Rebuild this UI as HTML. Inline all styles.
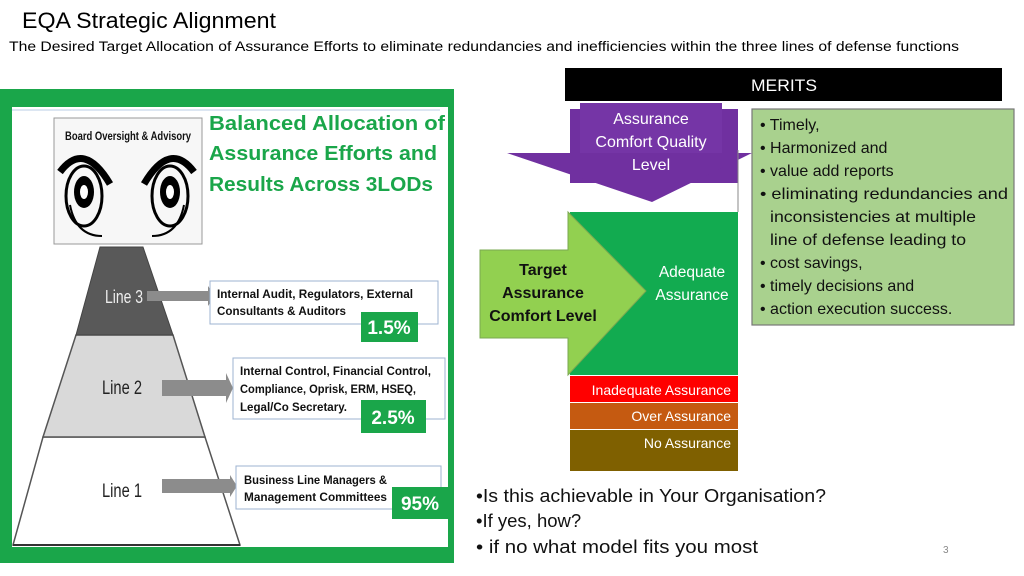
<!DOCTYPE html>
<html><head><meta charset="utf-8"><style>
html,body{margin:0;padding:0;background:#fff;}
svg{display:block;font-family:"Liberation Sans",sans-serif;}
</style></head><body>
<svg width="1024" height="576" viewBox="0 0 1024 576" xmlns="http://www.w3.org/2000/svg">
<rect width="1024" height="576" fill="#fff"/>
<text x="22" y="28" font-size="22" fill="#000" textLength="254" lengthAdjust="spacingAndGlyphs">EQA Strategic Alignment</text>
<text x="9" y="51" font-size="13.5" fill="#000" textLength="950" lengthAdjust="spacingAndGlyphs">The Desired Target  Allocation of Assurance Efforts to eliminate redundancies and inefficiencies within the three lines of defense functions</text>

<!-- left panel -->
<rect x="0" y="89" width="454" height="474" fill="#1aa64a"/>
<rect x="12" y="107" width="436" height="440" fill="#fff"/>
<line x1="12" y1="110" x2="440" y2="110" stroke="#b8cce4" stroke-width="1"/>
<rect x="54" y="118" width="148" height="126" fill="#f7f7f7" stroke="#999" stroke-width="1"/>
<text x="128" y="140" font-size="12" font-weight="bold" text-anchor="middle" fill="#111" textLength="126" lengthAdjust="spacingAndGlyphs">Board Oversight &amp; Advisory</text>
<!-- eyes -->
<g fill="none" stroke="#000">
<path d="M60 172 Q84 140 110 184" stroke-width="7"/>
<path d="M194 172 Q170 140 144 184" stroke-width="7"/>
<ellipse cx="84" cy="196" rx="18" ry="30" stroke-width="3"/>
<ellipse cx="170" cy="196" rx="18" ry="30" stroke-width="3"/>
<path d="M70 205 Q76 236 102 236" stroke-width="2"/>
<path d="M184 205 Q178 236 152 236" stroke-width="2"/>
</g>
<ellipse cx="84" cy="192" rx="10" ry="16" fill="#000"/>
<ellipse cx="84" cy="192" rx="4" ry="7" fill="#fff"/>
<ellipse cx="170" cy="192" rx="10" ry="16" fill="#000"/>
<ellipse cx="170" cy="192" rx="4" ry="7" fill="#fff"/>

<g font-weight="bold" font-size="20" fill="#1aa64a">
<text x="209" y="130" textLength="236" lengthAdjust="spacingAndGlyphs">Balanced Allocation of</text>
<text x="209" y="160" textLength="228" lengthAdjust="spacingAndGlyphs">Assurance Efforts and</text>
<text x="209" y="191" textLength="224" lengthAdjust="spacingAndGlyphs">Results Across 3LODs</text>
</g>

<!-- pyramid -->
<polygon points="13,545 43,437 205,437 240,545" fill="#fff" stroke="#555" stroke-width="1.5"/>
<polygon points="43,437 76,335 173,335 205,437" fill="#d9d9d9" stroke="#555" stroke-width="1.5"/>
<polygon points="76,335 100,247 143,247 173,335" fill="#595959" stroke="#444" stroke-width="1"/>
<line x1="13" y1="545" x2="240" y2="545" stroke="#333" stroke-width="2"/>
<text x="124" y="303" font-size="18" fill="#eee" text-anchor="middle" textLength="38" lengthAdjust="spacingAndGlyphs">Line 3</text>
<text x="122" y="394" font-size="19" fill="#222" text-anchor="middle" textLength="40" lengthAdjust="spacingAndGlyphs">Line 2</text>
<text x="122" y="497" font-size="19" fill="#222" text-anchor="middle" textLength="40" lengthAdjust="spacingAndGlyphs">Line 1</text>

<!-- arrows -->
<g fill="#8c8c8c">
<polygon points="147,291 208,291 208,286 215,296 208,306 208,301 147,301"/>
<polygon points="162,380 226,380 226,373 233,388 226,403 226,396 162,396"/>
<polygon points="162,479 230,479 230,475 237,486 230,497 230,493 162,493"/>
</g>

<!-- boxes -->
<g fill="#fff" stroke="#9db3d0" stroke-width="1">
<rect x="210" y="281" width="228" height="43"/>
<rect x="233" y="358" width="212" height="61"/>
<rect x="236" y="466" width="205" height="43"/>
</g>
<g font-size="11.5" font-weight="bold" fill="#111">
<text x="217" y="298" textLength="196" lengthAdjust="spacingAndGlyphs">Internal Audit, Regulators, External</text>
<text x="217" y="315" textLength="129" lengthAdjust="spacingAndGlyphs">Consultants &amp; Auditors</text>
<text x="240" y="375" textLength="191" lengthAdjust="spacingAndGlyphs">Internal Control, Financial Control,</text>
<text x="240" y="393" textLength="176" lengthAdjust="spacingAndGlyphs">Compliance, Oprisk, ERM, HSEQ,</text>
<text x="240" y="411" textLength="107" lengthAdjust="spacingAndGlyphs">Legal/Co Secretary.</text>
<text x="244" y="484" textLength="143" lengthAdjust="spacingAndGlyphs">Business Line Managers &amp;</text>
<text x="244" y="501" textLength="143" lengthAdjust="spacingAndGlyphs">Management Committees</text>
</g>
<g fill="#1aa64a">
<rect x="361" y="312" width="57" height="30"/>
<rect x="361" y="400" width="65" height="33"/>
<rect x="392" y="487" width="56" height="32"/>
</g>
<g font-size="19" font-weight="bold" fill="#fff" text-anchor="middle">
<text x="389" y="334">1.5%</text>
<text x="393" y="424">2.5%</text>
<text x="420" y="510">95%</text>
</g>

<!-- right -->
<rect x="565" y="68" width="437" height="33" fill="#000"/>
<text x="784" y="91" font-size="17" fill="#fff" text-anchor="middle" textLength="66" lengthAdjust="spacingAndGlyphs">MERITS</text>

<rect x="570" y="109" width="168" height="74" fill="#7030a0"/>
<polygon points="507,153 752,153 652,202" fill="#7030a0"/>
<rect x="580" y="103" width="142" height="50" fill="#7535a6"/>
<g font-size="16" fill="#fff" text-anchor="middle">
<text x="651" y="124">Assurance</text>
<text x="651" y="147">Comfort Quality</text>
<text x="651" y="170">Level</text>
</g>

<rect x="570" y="212" width="168" height="163" fill="#12ab50"/>
<polygon points="480,250 568,250 568,212 646,291 568,375 568,338 480,338" fill="#92d050" stroke="#7aa850" stroke-width="1"/>
<g font-size="16" font-weight="bold" fill="#111" text-anchor="middle">
<text x="543" y="275">Target</text>
<text x="543" y="298">Assurance</text>
<text x="543" y="321">Comfort Level</text>
</g>
<g font-size="15.5" fill="#fff" text-anchor="middle">
<text x="692" y="277">Adequate</text>
<text x="692" y="300">Assurance</text>
</g>
<line x1="738" y1="150" x2="738" y2="212" stroke="#888" stroke-width="1"/>

<rect x="570" y="376" width="168" height="26" fill="#ff0000"/>
<rect x="570" y="403" width="168" height="26" fill="#c55a11"/>
<rect x="570" y="430" width="168" height="41" fill="#7f6000"/>
<g font-size="14" fill="#fff" text-anchor="end">
<text x="731" y="395">Inadequate  Assurance</text>
<text x="731" y="421">Over  Assurance</text>
<text x="731" y="448">No Assurance</text>
</g>

<rect x="752" y="109" width="262" height="216" fill="#a9d18e" stroke="#777" stroke-width="1.2"/>
<g font-size="16" fill="#111">
<text x="760" y="130">• Timely,</text>
<text x="760" y="153">• Harmonized  and</text>
<text x="760" y="176">• value add  reports</text>
<text x="760" y="199" textLength="248" lengthAdjust="spacingAndGlyphs">• eliminating redundancies and</text>
<text x="770" y="222" textLength="206" lengthAdjust="spacingAndGlyphs">inconsistencies at multiple</text>
<text x="770" y="245" textLength="196" lengthAdjust="spacingAndGlyphs">line of defense leading to</text>
<text x="760" y="268">• cost savings,</text>
<text x="760" y="291">•  timely decisions and</text>
<text x="760" y="314">• action execution success.</text>
</g>

<g font-size="18.5" fill="#111">
<text x="476" y="502" textLength="350" lengthAdjust="spacingAndGlyphs">•Is  this achievable in Your Organisation?</text>
<text x="476" y="527">•If yes, how?</text>
<text x="476" y="553" textLength="282" lengthAdjust="spacingAndGlyphs">• if no what model  fits you most</text>
</g>
<text x="943" y="553" font-size="10" fill="#888">3</text>
</svg>
</body></html>
